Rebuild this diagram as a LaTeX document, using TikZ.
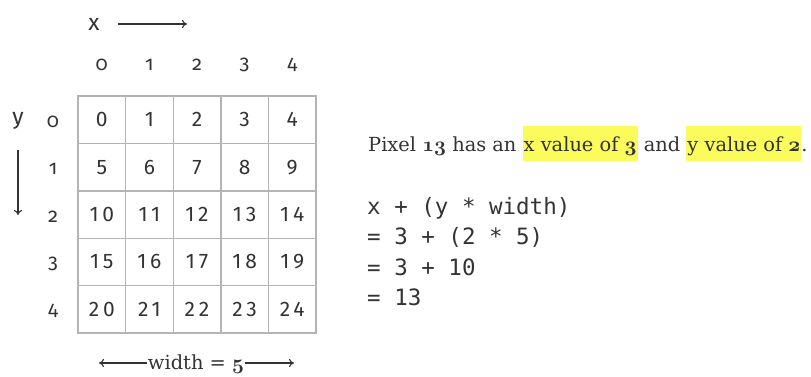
\documentclass[tikz,border=0pt]{standalone}
\usepackage{fontspec}
\usetikzlibrary{arrows.meta}
\setmainfont{DejaVu Serif}
\setmonofont{DejaVu Sans Mono}
\newfontfamily\gridfont{Fira Sans}[LetterSpace=18]
\newfontfamily\axisfont{Fira Sans}[Numbers=OldStyle]
\newcommand\myosf[1]{{\usefont{OML}{cmm}{b}{it}#1}}
\definecolor{ink}{HTML}{333333}
\definecolor{gridgray}{HTML}{B4B4B4}
\definecolor{hl}{HTML}{FBFB5C}
\newcommand\hlbox[1]{{\setlength{\fboxsep}{1pt}\colorbox{hl}{\rule[-9pt]{0pt}{33pt}#1}}}
\begin{document}
\begin{tikzpicture}[x=1pt,y=-1pt,
  cell/.style={draw=gridgray, line width=1.4pt, minimum width=47.6pt, minimum height=47.4pt, inner sep=0pt,
    font=\gridfont\fontsize{21}{21}\selectfont, text=ink},
  axislab/.style={font=\axisfont\fontsize{20}{20}\selectfont, text=ink, inner sep=0pt},
  arr/.style={-{To[length=5pt,width=8pt]}, line width=1.1pt, draw=ink},
  serif/.style={font=\fontsize{19.4}{22}\selectfont, text=ink, inner sep=0pt},
  code/.style={font=\ttfamily\fontsize{22.5}{30.5}\selectfont, text=ink, inner sep=0pt, align=left},
]
\useasboundingbox (0,0) rectangle (811,376);
\foreach \r in {0,...,4}{
  \foreach \c in {0,...,4}{
    \pgfmathtruncatemacro\n{\r*5+\c}
    \node[cell] (cell-\r-\c) at ({78+47.6*(\c+0.5)},{96+47.4*(\r+0.5)}) {\n};
  }
}
\foreach \c in {0,...,4}{
  \node[axislab] (col-\c) at (cell-0-\c |- 0,65) {\c};
}
\foreach \r in {0,...,4}{
  \node[axislab] (row-\r) at (53,{96+47.4*(\r+0.5)+2}) {\r};
}
% x axis label and arrow
\node[axislab, font=\axisfont\fontsize{23}{23}\selectfont] (xlab) at (94,24) {x};
\coordinate (xs) at (118,24);
\coordinate (xe) at (187,24);
\draw[arr] (xs) -- (xe);
% y axis label and arrow
\node[axislab, font=\axisfont\fontsize{23}{23}\selectfont] (ylab) at (18,121) {y};
\coordinate (ys) at (18,150);
\coordinate (ye) at (18,215);
\draw[arr] (ys) -- (ye);
% width label
\node[serif, anchor=base] (wlab) at (196,369) {width = \myosf{5}};
\coordinate (wl) at (99,363);
\coordinate (wr) at (294,363);
\draw[arr] ([xshift=-1pt]wlab.west |- wl) -- (wl);
\draw[arr] ([xshift=1pt]wlab.east |- wr) -- (wr);
% sentence
\node[serif, anchor=base west] (sent) at (368,151)
  {Pixel \myosf{13} has an \hlbox{x value of \myosf{3}} and \hlbox{y value of \myosf{2}}.};
% code
\node[code, anchor=north west] (calc) at (367,197)
  {x + (y * width)\\= 3 + (2 * 5)\\= 3 + 10\\= 13};
\end{tikzpicture}
\end{document}
